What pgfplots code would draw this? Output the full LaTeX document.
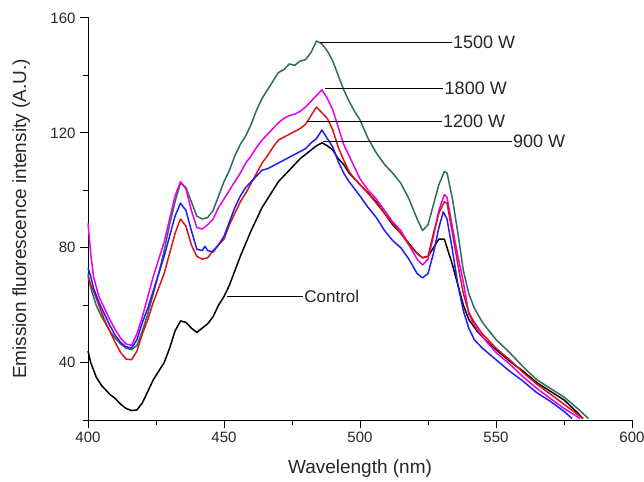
\documentclass[border=0pt]{standalone}
\usepackage{fontspec}
\setmainfont{Liberation Sans}
\usepackage{pgfplots}
\pgfplotsset{compat=1.18}
\definecolor{cgreen}{RGB}{45,108,100}
\definecolor{cmag}{RGB}{235,0,235}
\definecolor{cred}{RGB}{220,20,20}
\definecolor{cblue}{RGB}{30,30,245}
\begin{document}
\begin{tikzpicture}
\begin{axis}[
  at={(0,0)}, anchor=south west,
  scale only axis, width=544pt, height=402pt,
  xmin=400, xmax=600, ymin=20, ymax=160,
  axis line style={draw=none},
  xtick pos=bottom, ytick pos=left,
  xtick={400,450,500,550,600},
  ytick={40,80,120,160},
  major tick length=0pt, minor tick length=0pt,
  /pgf/number format/assume math mode=true,
  tick label style={font=\fontsize{15}{18}\selectfont, text=black!85},
  xticklabel style={yshift=-8pt},
  yticklabel style={xshift=-9pt},
  xlabel={Wavelength (nm)},
  ylabel={Emission fluorescence intensity (A.U.)},
  label style={font=\fontsize{19}{22}\selectfont, text=black!85},
  xlabel style={at={(axis description cs:0.5,0)}, anchor=north, yshift=-36pt},
  ylabel style={at={(axis description cs:-0.1,0.5)}, anchor=south, rotate=0},
  clip=false,
  every axis plot/.append style={line width=1.5pt, line join=round},
]
\draw[line width=1pt, line cap=rect] (axis description cs:0,1) -- (axis description cs:0,0) -- (axis description cs:1,0);
\pgfplotsinvokeforeach{400,450,500,550,600}{\draw[line width=1pt] (axis cs:#1,20) -- ++(0pt,-8pt);}
\pgfplotsinvokeforeach{425,475,525,575}{\draw[line width=1pt] (axis cs:#1,20) -- ++(0pt,-5pt);}
\pgfplotsinvokeforeach{40,80,120,160}{\draw[line width=1pt] (axis cs:400,#1) -- ++(-8pt,0pt);}
\pgfplotsinvokeforeach{20,60,100,140}{\draw[line width=1pt] (axis cs:400,#1) -- ++(-5pt,0pt);}
% Control
\addplot[black] coordinates {
(400,44)(401,40)(403,35)(405,32)(408,29)(410,27.5)(412,25.5)(414,24)(416,23.3)(418,23.5)
(420,26)(422,30)(424,34)(426,37)(428,40)(430,45)(432,51)(434,54.5)(436,54)(438,52)
(440,50.5)(442,52)(444,53.5)(446,56)(448,60)(450,63)(452,67)(454,72)(456,77)(458,81.5)
(460,86)(462,90)(464,94)(466,97)(468,100)(470,103)(472,105)(474,107)(476,109)(478,111)
(480,112.5)(482,114)(484,115.5)(486,116.5)(488,115.5)(490,114)(492,111)(494,109)(496,106)(498,104)
(500,102)(503,99)(506,96)(509,92)(512,88)(515,85)(518,81.5)(521,78)(523,76.5)(525,77)
(527,80)(529,83)(531,83)(532,80)(534,74)(536,67)(538,60)(540,55)(543,51)(546,48)
(550,44.5)(555,40.5)(560,37)(565,33)(570,30)(575,27)(580,22.5)(582,20.5)
};
% 1500 W
\addplot[cgreen] coordinates {
(400,71)(401,66)(403,60)(405,56)(408,51)(410,48.5)(412,46.5)(414,45)(416,44.5)(418,46)
(420,51)(422,57)(424,64)(426,71)(428,79)(430,88)(432,96)(434,102.5)(436,101)(438,96)
(440,91)(442,90)(444,90.5)(446,93)(448,98)(450,103)(452,107)(454,112)(456,116)(458,119)
(460,123)(462,128)(464,132)(466,135)(468,138)(470,141)(472,142)(474,144)(476,143.5)(478,145)
(480,145.5)(482,148)(484,152)(486,151)(488,148.5)(490,145)(492,140)(494,135)(496,131)(498,127.5)
(500,124.5)(503,118)(506,113)(509,109)(512,106)(515,102.5)(518,97)(521,90)(523,86)(525,88)
(527,95)(529,102)(531,106.5)(532,106)(534,97)(536,85)(538,72)(540,64)(542,59)(545,54)
(550,48)(555,43.5)(560,38.5)(565,34)(570,31)(575,28)(580,24)(584,20.5)
};
% 1800 W
\addplot[cmag] coordinates {
(400,88.5)(401,78)(402,70)(404,63)(406,59)(408,55)(410,51.5)(412,48.5)(414,46.5)(416,46)
(418,50)(420,56)(422,63)(424,70)(426,76)(428,82)(430,90)(432,98)(434,103)(436,100.5)
(438,93)(440,87)(442,86.5)(444,88)(446,90)(448,94)(450,97)(452,100)(454,103)(456,106)
(458,109.5)(460,112)(462,115)(464,117.5)(466,119.5)(468,121.5)(470,123.5)(472,125)(474,126)(476,126.5)
(478,127.5)(480,129)(482,131)(484,133)(486,135)(488,132)(490,128)(492,122)(494,116)(496,112)
(498,108)(500,104)(503,100)(506,97)(509,93)(512,89)(515,86)(518,81)(521,76)(523,74)
(525,76)(527,84)(529,93)(531,98.5)(532,97.5)(534,87)(536,77)(538,68)(540,57)(542,53)
(545,49)(550,43.5)(555,39.5)(560,35)(565,31)(570,27.5)(575,24)(581,20.5)
};
% 1200 W
\addplot[cred] coordinates {
(400,70)(401,67)(402,65)(404,60)(406,55)(408,51)(410,47)(412,43.5)(414,41.2)(416,41)
(418,44)(420,50)(422,55)(424,61)(426,66)(428,71)(430,78)(432,85)(434,90)(436,87.5)
(438,81)(440,77)(442,76)(444,76.5)(446,79)(448,81)(450,83)(452,88)(454,92)(456,96)
(458,99)(460,102.5)(462,106)(464,109.5)(466,112)(468,115)(470,117.5)(472,118.5)(474,119.5)(476,120.5)
(478,121.5)(480,123)(482,126)(484,129)(486,127)(488,125)(490,121)(492,115)(494,110.5)(496,106.5)
(498,104)(500,102)(503,99)(506,95.5)(509,92)(512,88.5)(515,85)(518,81)(521,78)(523,76.5)
(525,77)(527,85)(529,92)(531,96)(532,95.5)(534,85)(536,74)(538,64)(540,57.5)(542,54)
(545,50)(550,45)(555,41)(560,36.5)(565,32.5)(570,29)(575,25.5)(582,20.5)
};
% 900 W
\addplot[cblue] coordinates {
(400,73)(401,70)(402,66)(404,61)(406,57)(408,53)(410,49.5)(412,47)(414,45.5)(416,45)
(418,48)(420,54)(422,59)(424,65)(426,71)(428,77)(430,84)(432,91)(434,95.5)(436,93)
(438,86)(440,79.5)(442,79)(443,80.5)(444,79)(446,78.5)(448,81)(450,84)(452,89)(454,94)
(456,98)(458,101)(460,103)(462,105)(464,107)(466,107.5)(468,108.5)(470,109.5)(472,110.5)(474,111.5)
(476,112.5)(478,113.5)(480,114.5)(482,116.5)(484,118)(486,121)(488,118)(490,115)(492,110)(494,106)
(496,103)(498,100.5)(500,98)(503,94)(506,90.5)(509,86)(512,82.5)(515,80)(518,76)(521,71)
(523,69.5)(525,71)(527,78)(529,87)(530.6,92.5)(532,90)(534,79)(536,67)(538,58)(540,52)
(542,48)(545,45)(550,41)(555,37)(560,33.5)(565,29.5)(570,26.5)(575,23)(578,20.5)
};
% annotations
\draw[line width=1pt] (axis cs:485.3,151.4) -- (axis cs:533.7,151.4)
  node[right, inner sep=1pt, font=\fontsize{18}{20}\selectfont, text=black!85] {1500 W};
\draw[line width=1pt] (axis cs:487.1,135.5) -- (axis cs:530.6,135.5)
  node[right, inner sep=1pt, font=\fontsize{18}{20}\selectfont, text=black!85] {1800 W};
\draw[line width=1pt] (axis cs:480.4,124) -- (axis cs:530,124)
  node[right, inner sep=1pt, font=\fontsize{18}{20}\selectfont, text=black!85] {1200 W};
\draw[line width=1pt] (axis cs:486.5,117) -- (axis cs:555.7,117)
  node[right, inner sep=1pt, font=\fontsize{18}{20}\selectfont, text=black!85] {900 W};
\draw[line width=1pt] (axis cs:451,63) -- (axis cs:479,63)
  node[right, inner sep=1pt, font=\fontsize{17}{20}\selectfont, text=black!85] {Control};
\end{axis}
\pgfresetboundingbox
\useasboundingbox (-88pt,-61pt) rectangle (556pt,420pt);
\end{tikzpicture}
\end{document}
